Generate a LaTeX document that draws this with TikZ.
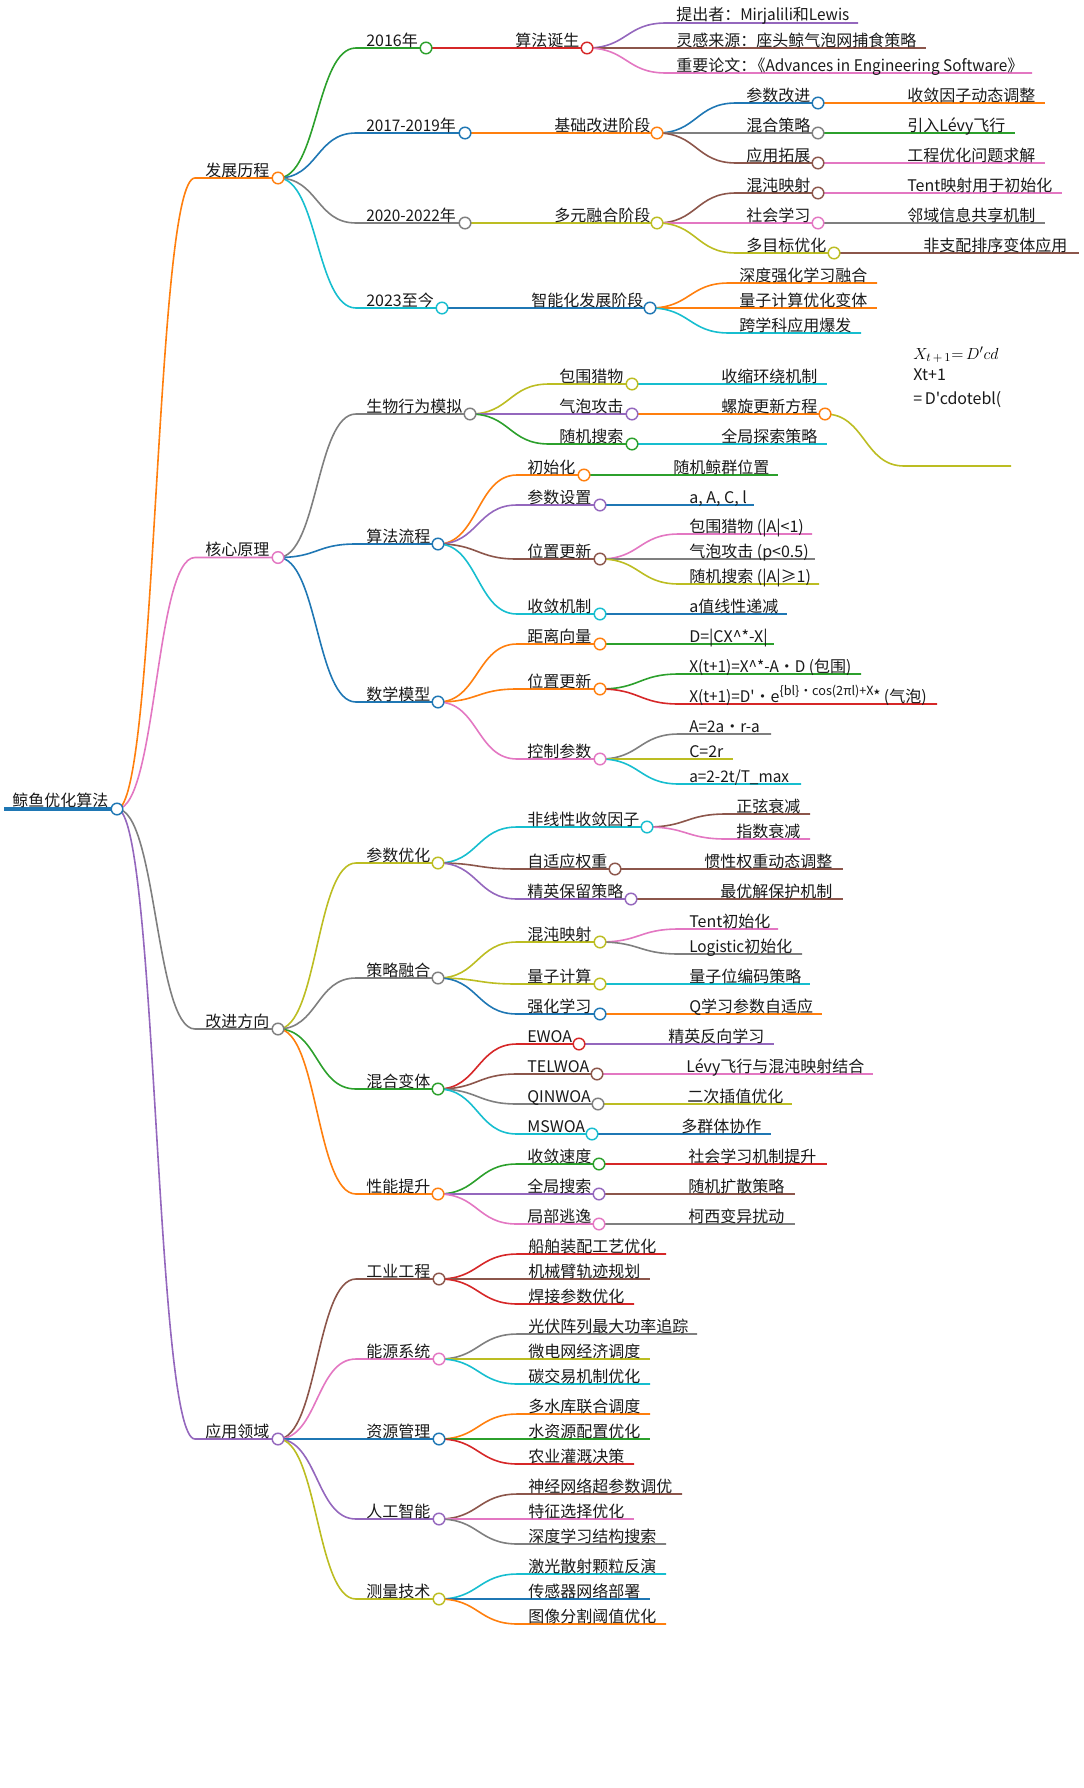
\documentclass[tikz,border=0pt]{standalone}
\usepackage{fontspec}
\setmainfont{Noto Sans CJK SC}[Ligatures=TeXOff]
\newfontfamily\latn{Noto Sans CJK SC}[FakeStretch=0.96,Ligatures=TeXOff]
\usetikzlibrary{calc,backgrounds}
\definecolor{mblue}{HTML}{1F77B4}
\definecolor{morange}{HTML}{FF7F0E}
\definecolor{mgreen}{HTML}{2CA02C}
\definecolor{mred}{HTML}{D62728}
\definecolor{mpurple}{HTML}{9467BD}
\definecolor{mbrown}{HTML}{8C564B}
\definecolor{mpink}{HTML}{E377C2}
\definecolor{mgray}{HTML}{7F7F7F}
\definecolor{myellow}{HTML}{BCBD22}
\definecolor{mcyan}{HTML}{17BECF}
\tikzset{
  mapdot/.style={circle,fill=white,inner sep=0pt,minimum size=8.7pt,line width=1.1pt},
  maptext/.style={anchor=base west,inner sep=0pt,text=black!90},
  wire/.style={line width=1.2pt},
}
\begin{document}
\begin{tikzpicture}[x=0.75pt,y=-0.75pt,font=\fontsize{12}{14}\selectfont]
\useasboundingbox (0,0) rectangle (1083,1788);
% root
\node[mapdot,draw=mblue] (root) at (117,809) {};
\coordinate (roots) at (4,809);
\node[maptext] (roott) at (12,806.5) {鲸鱼优化算法};
\begin{scope}[on background layer]
\draw[mblue,line width=2.8pt] (roots) -- (root.center);
\end{scope}
% branches with a dot
\foreach \id/\up/\col/\xs/\xe/\y/\txt in {
  dev/root/morange/195/278/178/发展历程,
  core/root/mpink/195/278/557.5/核心原理,
  impr/root/mgray/195/278/1029/改进方向,
  appl/root/mpurple/195/278/1439/应用领域,
  y16/dev/mgreen/356/426/48/2016年,
  y17/dev/mblue/356/465/133/{\latn 2017-2019}年,
  y20/dev/mgray/356/465/223/{\latn 2020-2022}年,
  y23/dev/mcyan/356/442/308/2023至今,
  y16a/y16/mred/505/587/48/算法诞生,
  y17a/y17/morange/544/657/133/基础改进阶段,
  y20a/y20/myellow/544/657/223/多元融合阶段,
  y23a/y23/mblue/521/650/308/智能化发展阶段,
  y17p/y17a/mblue/736/818/103/参数改进,
  y17m/y17a/mgray/736/818/133/混合策略,
  y17g/y17a/mbrown/736/818/163/应用拓展,
  y20c/y20a/mbrown/736/818/193/混沌映射,
  y20s/y20a/mpink/736/818/223/社会学习,
  y20o/y20a/myellow/736/834/253/多目标优化,
  bio/core/mgray/356/470/414/生物行为模拟,
  flow/core/mblue/356/438/544/算法流程,
  calc/core/mblue/356/438/702/数学模型,
  bioa/bio/myellow/549/632/384/包围猎物,
  biob/bio/mpurple/549/632/414/气泡攻击,
  bioc/bio/mgreen/549/632/444/随机搜索,
  spiral/biob/morange/711/825/414/螺旋更新方程,
  flowa/flow/morange/517/584/475/初始化,
  flowb/flow/mpurple/517/600/505/参数设置,
  flowc/flow/mbrown/517/600/559/位置更新,
  flowd/flow/mcyan/517/600/614/收敛机制,
  calca/calc/morange/517/600/644/距离向量,
  calcb/calc/morange/517/600/689/位置更新,
  calcc/calc/mpink/517/600/759/控制参数,
  para/impr/myellow/356/438/863/参数优化,
  strat/impr/mgray/356/438/978/策略融合,
  hyb/impr/mgreen/356/438/1089/混合变体,
  perf/impr/morange/356/438/1194/性能提升,
  paraa/para/mcyan/517/647/827/非线性收敛因子,
  parab/para/mbrown/517/615/869/自适应权重,
  parac/para/mpurple/517/631/899/精英保留策略,
  strata/strat/myellow/517/600/942/混沌映射,
  stratb/strat/myellow/517/600/984/量子计算,
  stratc/strat/mblue/517/600/1014/强化学习,
  hyba/hyb/mred/517/579/1044/EWOA,
  hybb/hyb/mbrown/517/597/1074/TELWOA,
  hybc/hyb/mgray/517/598/1104/QINWOA,
  hybd/hyb/mcyan/517/592/1134/MSWOA,
  perfa/perf/mgreen/517/599/1164/收敛速度,
  perfb/perf/mpurple/517/599/1194/全局搜索,
  perfc/perf/mpink/517/599/1224/局部逃逸,
  ind/appl/mbrown/356/439/1279/工业工程,
  ene/appl/mpink/356/439/1359/能源系统,
  res/appl/mblue/356/439/1439/资源管理,
  ai/appl/mpurple/356/439/1519/人工智能,
  mea/appl/myellow/356/439/1599/测量技术}{
  \node[mapdot,draw=\col] (\id) at (\xe,\y) {};
  \coordinate (\id s) at (\xs,\y);
  \node[maptext] (\id t) at ($(\id s)+(10,-2)$) {\txt};
  \begin{scope}[on background layer]
  \draw[wire,draw=\col] (\up.center) .. controls +(40,0) and +(-40,0) .. (\id s) -- (\id.center);
  \end{scope}
}
% leaves
\foreach \id/\up/\col/\xs/\xe/\y/\txt in {
  la/y16a/mpurple/666/858/23/提出者：{\latn Mirjalili}和{\latn Lewis},
  lb/y16a/mbrown/666/926/48/灵感来源：座头鲸气泡网捕食策略,
  lc/y16a/mpink/666/1032/73/重要论文：\kern-5pt《{\latn Advances in Engineering Software}》,
  ld/y17p/morange/897/1045/103/收敛因子动态调整,
  le/y17m/mgreen/897/1015/133/引入Lévy飞行,
  lf/y17g/mpink/897/1045/163/工程优化问题求解,
  lg/y20c/mpink/897/1062/193/Tent映射用于初始化,
  lh/y20s/mgray/897/1045/223/邻域信息共享机制,
  li/y20o/mbrown/913/1079/253/非支配排序变体应用,
  lj/y23a/morange/729/877/283/深度强化学习融合,
  lk/y23a/morange/729/877/308/量子计算优化变体,
  ll/y23a/mcyan/729/861/333/跨学科应用爆发,
  lm/bioa/mcyan/711/827/384/收缩环绕机制,
  ln/bioc/mcyan/711/827/444/全局探索策略,
  lo/flowa/mgreen/663/778/475/随机鲸群位置,
  lp/flowb/mblue/679/754/505/{a, A, C, l},
  lq/flowc/mpink/679/812/534/包围猎物 (|A|<1),
  lr/flowc/mgray/679/815/559/气泡攻击 (p<0.5),
  ls/flowc/myellow/679/819/584/随机搜索 (|A|≥1),
  lt/flowd/mblue/679/787/614/a值线性递减,
  lu/calca/mgreen/679/774/644/D=|CX\textasciicircum{}*-X|,
  lv/calcb/mgreen/679/861/674/{\latn X(t+1)=X\textasciicircum{}*-A}・{\latn D (}包围{\latn )},
  lw/calcb/mred/679/937/704/{\latn X(t+1)=D'}・e\raisebox{5pt}{\fontsize{9.5}{10}\selectfont\{bl\}・cos(2πl)+X\raisebox{1pt}{\fontsize{5}{5}\selectfont ★}} (气泡),
  lx/calcc/mgray/679/771/734/{\latn A=2a}・{\latn r-a},
  ly/calcc/myellow/679/733/759/C=2r,
  lz/calcc/mcyan/679/801/784/{{\latn a=2-2t/T\_max}},
  ma/paraa/mbrown/726/810/814/正弦衰减,
  mb/paraa/mpink/726/810/839/指数衰减,
  mc/parab/mbrown/694/843/869/惯性权重动态调整,
  md/parac/mbrown/710/843/899/最优解保护机制,
  me/strata/mpink/679/778/929/Tent初始化,
  mf/strata/mgray/679/802/954/{\latn Logistic}初始化,
  mg/stratb/mcyan/679/810/984/量子位编码策略,
  mh/stratc/morange/679/822/1014/Q学习参数自适应,
  mi/hyba/mpurple/658/774/1044/精英反向学习,
  mj/hybb/mpink/676/873/1074/Lévy飞行与混沌映射结合,
  mk/hybc/myellow/677/792/1104/二次插值优化,
  ml/hybd/mblue/671/771/1134/多群体协作,
  mm/perfa/mred/678/827/1164/社会学习机制提升,
  mn/perfb/mbrown/678/795/1194/随机扩散策略,
  mo/perfc/mgray/678/795/1224/柯西变异扰动,
  mp/ind/mred/518/666/1254/船舶装配工艺优化,
  mq/ind/mbrown/518/650/1279/机械臂轨迹规划,
  mr/ind/mred/518/634/1304/焊接参数优化,
  ms/ene/mgray/518/697/1334/光伏阵列最大功率追踪,
  mt/ene/myellow/518/650/1359/微电网经济调度,
  mu/ene/mcyan/518/650/1384/碳交易机制优化,
  mv/res/morange/518/650/1414/多水库联合调度,
  mw/res/mgreen/518/650/1439/水资源配置优化,
  mx/res/mred/518/634/1464/农业灌溉决策,
  my/ai/mbrown/518/682/1494/神经网络超参数调优,
  mz/ai/mpink/518/634/1519/特征选择优化,
  na/ai/mgray/518/666/1544/深度学习结构搜索,
  nb/mea/mcyan/518/666/1574/激光散射颗粒反演,
  nc/mea/mblue/518/650/1599/传感器网络部署,
  nd/mea/morange/518/666/1624/图像分割阈值优化}{
  \coordinate (\id) at (\xe,\y);
  \coordinate (\id s) at (\xs,\y);
  \node[maptext] (\id t) at ($(\id s)+(10,-2)$) {\txt};
  \begin{scope}[on background layer]
  \draw[wire,draw=\col] (\up.center) .. controls +(40,0) and +(-40,0) .. (\id s) -- (\id);
  \end{scope}
}
% formula leaf, cut off at its box
\coordinate (form) at (1011,466);
\coordinate (forms) at (904,466);
\begin{scope}[on background layer]
\draw[wire,draw=myellow] (spiral.center) .. controls +(40,0) and +(-40,0) .. (forms) -- (form);
\end{scope}
\begin{scope}
\clip (910,335) rectangle (1000.5,412);
\node[maptext,text=black] (forma) at (913,359) {\fontsize{13}{15}\selectfont $X_{t\,+\,1}{=}\,D'cd$};
\node[maptext] (formb) at (913,380) {Xt+1};
\node[maptext] (formc) at (913,404) {=\kern2pt D'cdotebl(};
\end{scope}
\end{tikzpicture}
\end{document}
